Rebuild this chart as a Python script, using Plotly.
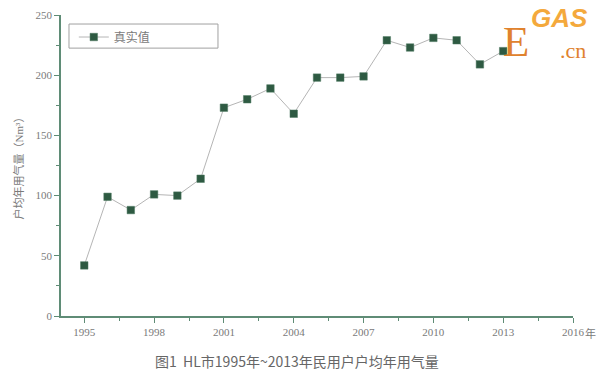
import plotly.graph_objects as go

years = list(range(1995, 2014))
values = [42, 99, 88, 101, 100, 114, 173, 180, 189, 168, 198, 198, 199, 229, 223, 231, 229, 209, 220]
series_name = "真实值"
x_tickvals = [1995, 1998, 2001, 2004, 2007, 2010, 2013, 2016]
x_ticktext = ["1995", "1998", "2001", "2004", "2007", "2010", "2013", "2016"]
y_tickvals = [0, 50, 100, 150, 200, 250]
y_title = "户均年用气量（Nm³）"
caption = "图1  HL市1995年~2013年民用户户均年用气量"

axis_color = "#5f8c76"
text_color = "#7a7a7a"
serif = "Liberation Serif, Noto Sans CJK SC, serif"

fig = go.Figure()
fig.add_trace(go.Scatter(
    x=years, y=values, name=series_name, mode="lines+markers",
    line=dict(color="#b5b5b5", width=1),
    marker=dict(symbol="square", size=7.5, color="#2e5a42",
                line=dict(color="#4f7a63", width=0.5)),
))

fig.update_layout(
    width=600, height=374,
    margin=dict(l=61, r=27, t=15, b=58),
    paper_bgcolor="white", plot_bgcolor="white",
    showlegend=True,
    legend=dict(x=0.025, y=0.975, xanchor="left", yanchor="top",
                bgcolor="rgba(0,0,0,0)", borderwidth=0,
                font=dict(family=serif, size=12, color=text_color)),
    xaxis=dict(range=[1994, 2016], showgrid=False, zeroline=False, automargin=False,
               showline=True, linecolor=axis_color, linewidth=1.5,
               tickmode="array", tickvals=x_tickvals, ticktext=x_ticktext,
               ticks="outside", ticklen=5, tickcolor=axis_color, tickwidth=1,
               minor=dict(tickvals=[1996.5, 1999.5, 2002.5, 2005.5, 2008.5, 2011.5, 2014.5],
                          ticks="outside", ticklen=3, tickcolor=axis_color),
               tickfont=dict(family=serif, size=11, color=text_color)),
    yaxis=dict(range=[0, 250], showgrid=False, zeroline=False, automargin=False,
               showline=True, linecolor=axis_color, linewidth=1.5,
               tickmode="array", tickvals=y_tickvals,
               ticks="outside", ticklen=5, tickcolor=axis_color, tickwidth=1,
               minor=dict(tickvals=[25, 75, 125, 175, 225],
                          ticks="outside", ticklen=3, tickcolor=axis_color),
               tickfont=dict(family=serif, size=11, color=text_color),
               title=dict(text=y_title, standoff=10,
                          font=dict(family=serif, size=11, color=text_color))),
    shapes=[dict(type="rect", xref="paper", yref="paper",
                 x0=0.0156, x1=0.3066, y0=0.890, y1=0.970,
                 line=dict(color="#a0a0a0", width=1))],
    annotations=[
        dict(text="年", xref="x", yref="paper", x=2016, y=0, xshift=10, yshift=-26,
             showarrow=False, xanchor="left",
             font=dict(family=serif, size=11, color=text_color)),
        dict(text=caption, xref="paper", yref="paper", x=0.46, y=-0.11,
             yanchor="top", showarrow=False,
             font=dict(family="Noto Sans CJK SC, sans-serif", size=14, color="#666666")),
        dict(text="E", xref="paper", yref="paper", x=0.86, y=0.998, yanchor="top",
             xanchor="left", showarrow=False,
             font=dict(family="Liberation Serif, serif", size=43, color="#e0822e")),
        dict(text="<b><i>GAS</i></b>", xref="paper", yref="paper", x=0.915, y=1.045,
             yanchor="top", xanchor="left", showarrow=False,
             font=dict(family="Liberation Sans, sans-serif", size=26, color="#f4a93c")),
        dict(text=".cn", xref="paper", yref="paper", x=0.97, y=0.93, yanchor="top",
             xanchor="left", showarrow=False,
             font=dict(family="Liberation Serif, serif", size=22, color="#e0822e")),
    ],
)

fig.write_html("out.html", config={"displayModeBar": False},
               post_script="document.body.style.margin='0px';")
